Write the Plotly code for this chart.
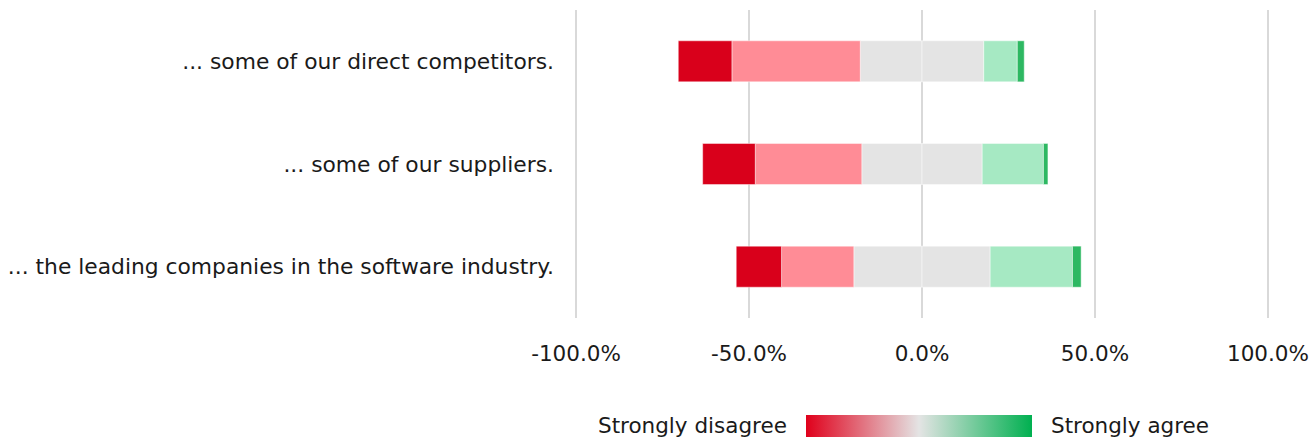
import plotly.graph_objects as go

categories = ["... some of our direct competitors.",
              "... some of our suppliers.",
              "... the leading companies in the software industry."]
strongly_disagree = [15.5, 15.2, 13.1]
disagree = [37.1, 30.8, 20.9]
neutral = [35.7, 34.8, 39.4]
agree = [9.7, 17.7, 23.8]
strongly_agree = [2.0, 1.3, 2.5]

tick_vals = [-100, -50, 0, 50, 100]
tick_text = ["-100.0%", "-50.0%", "0.0%", "50.0%", "100.0%"]

C_SD = "#D9001B"
C_D = "#FF8C96"
C_N = "#E4E4E4"
C_A = "#A6E9C3"
C_SA = "#2DB862"

FONT = "DejaVu Sans, sans-serif"
FS = 21.5
TXT = "#1a1a1a"
edge = dict(color="rgba(255,255,255,0.45)", width=1)

# plot geometry (pixels)
L, R, T, B = 575, 42, 10, 120.5
W, H = 1311, 439
pw = W - L - R
ph = H - T - B

fig = go.Figure()
half_n = [v / 2 for v in neutral]
series = [
    ("Neutral", [-v for v in half_n], C_N),
    ("Disagree", [-v for v in disagree], C_D),
    ("Strongly disagree", [-v for v in strongly_disagree], C_SD),
    ("Neutral ", half_n, C_N),
    ("Agree", agree, C_A),
    ("Strongly agree", strongly_agree, C_SA),
]
for name, vals, col in series:
    fig.add_trace(go.Bar(y=categories, x=vals, orientation="h", name=name,
                         marker=dict(color=col, line=edge), showlegend=False,
                         hoverinfo="x+y"))

# gradient legend (colorbar)
fig.add_trace(go.Scatter(
    x=[0], y=[categories[0]], mode="markers", hoverinfo="skip", showlegend=False,
    marker=dict(size=0.001, color=[0], cmin=0, cmax=1,
                colorscale=[[0, "#E0001B"], [0.5, "#E4E4E4"], [1, "#00B050"]],
                showscale=True,
                colorbar=dict(orientation="h", xref="paper", yref="container",
                              x=(919 - L) / pw, xanchor="center",
                              y=(H - 426) / H, yanchor="middle",
                              lenmode="pixels", len=226,
                              thicknessmode="pixels", thickness=22,
                              outlinewidth=0, showticklabels=False, ticks="",
                              xpad=0, ypad=0))))

fig.update_layout(
    barmode="relative",
    bargap=0.6,
    width=W, height=H,
    margin=dict(l=L, r=R, t=T, b=B, autoexpand=False),
    paper_bgcolor="white", plot_bgcolor="white",
    font=dict(family=FONT, size=FS, color=TXT),
    xaxis=dict(range=[-100.3, 100.3], tickvals=tick_vals, ticktext=tick_text,
               showgrid=True, gridcolor="#D9D9D9", gridwidth=2,
               zeroline=True, zerolinecolor="#D9D9D9", zerolinewidth=2,
               showline=False, ticks="", ticklabelstandoff=20,
               tickfont=dict(size=FS, color=TXT)),
    yaxis=dict(autorange="reversed", showgrid=False, zeroline=False,
               ticks="", ticklabelstandoff=20,
               tickfont=dict(size=21.8, color=TXT)),
    annotations=[
        dict(text="Strongly disagree", xref="paper", yref="paper",
             x=(789 - L) / pw, y=(H - B - 426) / ph,
             xanchor="right", yanchor="middle", showarrow=False,
             font=dict(size=FS, color=TXT)),
        dict(text="Strongly agree", xref="paper", yref="paper",
             x=(1049 - L) / pw, y=(H - B - 426) / ph,
             xanchor="left", yanchor="middle", showarrow=False,
             font=dict(size=FS, color=TXT)),
    ],
)

fig.write_html("out.html", config={"displayModeBar": False},
               post_script="document.body.style.margin='0';")
